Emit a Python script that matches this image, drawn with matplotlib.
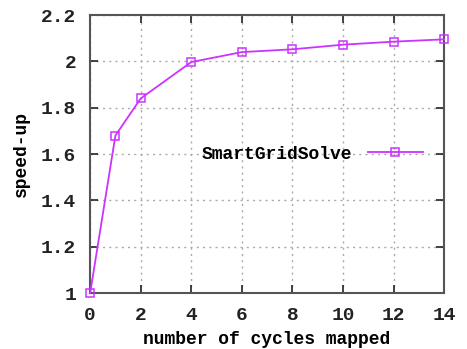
import matplotlib.pyplot as plt
import numpy as np

cycles = [0, 1, 2, 4, 6, 8, 10, 12, 14]
speedup = [1.0, 1.68, 1.84, 1.997, 2.04, 2.052, 2.072, 2.085, 2.095]
x_ticks = [0, 2, 4, 6, 8, 10, 12, 14]
x_labels = ["0", "2", "4", "6", "8", "10", "12", "14"]
y_ticks = [1, 1.2, 1.4, 1.6, 1.8, 2, 2.2]
y_labels = ["1", "1.2", "1.4", "1.6", "1.8", "2", "2.2"]

plt.rcParams['font.family'] = ['Liberation Mono', 'DejaVu Sans Mono']

fig = plt.figure(figsize=(4.67, 3.49), dpi=100)
ax = fig.add_axes([0.193, 0.160, 0.758, 0.797])

ax.plot(cycles, speedup, color="#cc33ff", linewidth=1.3, marker="s",
        markersize=6, markerfacecolor="none", markeredgecolor="#cc33ff",
        markeredgewidth=1.1, label="SmartGridSolve", clip_on=False, zorder=5)

ax.set_xlim(0, 14)
ax.set_ylim(1, 2.2)
ax.set_xticks(x_ticks)
ax.set_xticklabels(x_labels)
ax.set_yticks(y_ticks)
ax.set_yticklabels(y_labels)

ax.grid(True, color="#aaaaaa", linestyle=(0, (1.5, 3)), linewidth=1.0)
ax.tick_params(direction="in", length=6, width=1.2, top=True, right=True,
               labelsize=14, colors="#222222", pad=10)
for lab in ax.get_xticklabels() + ax.get_yticklabels():
    lab.set_fontweight("bold")
for s in ax.spines.values():
    s.set_color("#555555")
    s.set_linewidth(1.5)

ax.set_xlabel("number of cycles mapped", fontsize=13, fontweight="bold", labelpad=5)
ax.set_ylabel("speed-up", fontsize=13, fontweight="bold", labelpad=8)

leg = ax.legend(loc="center right", bbox_to_anchor=(0.985, 0.50), frameon=False,
                markerfirst=False, handlelength=3.0, handletextpad=0.9,
                prop={"weight": "bold", "size": 13})

fig.savefig("out.png", dpi=100)
